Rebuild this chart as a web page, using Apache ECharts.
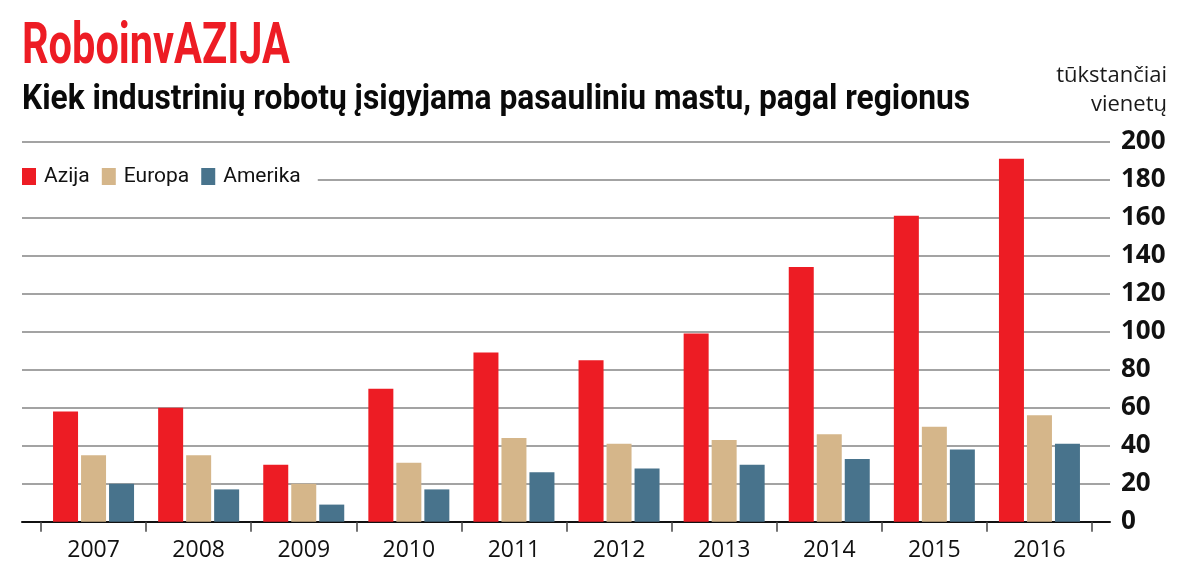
<!DOCTYPE html>
<html>
<head>
<meta charset="utf-8">
<script src="https://cdn.jsdelivr.net/npm/echarts@6/dist/echarts.min.js"></script>
<style>html,body{margin:0;padding:0;background:#fff}#c{width:1200px;height:584px}</style>
</head>
<body>
<div id="c"></div>
<script>
var years = ['2007','2008','2009','2010','2011','2012','2013','2014','2015','2016'];
var azija = [58, 60, 30, 70, 89, 85, 99, 134, 161, 191];
var europa = [35, 35, 20, 31, 44, 41, 43, 46, 50, 56];
var amerika = [20, 17, 9, 17, 26, 28, 30, 33, 38, 41];
var seriesNames = ['Azija', 'Europa', 'Amerika'];
var yMin = 0, yMax = 200, yStep = 20;
var titleText = 'RoboinvAZIJA';
var subtitleText = 'Kiek industrinių robotų įsigyjama pasauliniu mastu, pagal regionus';
var unitText = 'tūkstančiai\nvienetų';

var humanist = "'Open Sans', 'Noto Sans', sans-serif";
var colors = ['#ED1C24', '#D5B68A', '#48738C'];

var titleFont = "bold 58px Roboto, sans-serif";
var subFont = "bold 35px Roboto, sans-serif";
function measure(font, text) {
  var ctx = document.createElement('canvas').getContext('2d');
  ctx.font = font;
  return ctx.measureText(text).width;
}
var titleScale = 268 / measure(titleFont, titleText);
var subScale = 948 / measure(subFont, subtitleText);

var chart = echarts.init(document.getElementById('c'), null, {renderer: 'canvas'});
var top0 = 141.7, bottom0 = 584 - 521.7;
chart.setOption({
  animation: false,
  backgroundColor: '#fff',
  graphic: [
    {type: 'text', x: 22, y: 48, scaleX: titleScale,
     style: {text: titleText, font: titleFont, fill: '#ED1C24', textVerticalAlign: 'middle', verticalAlign: 'middle'}},
    {type: 'text', x: 22, y: 100, scaleX: subScale,
     style: {text: subtitleText, font: subFont, fill: '#0a0a0a', textVerticalAlign: 'middle', verticalAlign: 'middle'}},
    {type: 'text', x: 1167, y: 90,
     style: {text: unitText, font: "22px 'Open Sans', sans-serif", lineHeight: 29, fill: '#1a1a1a',
             align: 'right', textAlign: 'right', verticalAlign: 'middle', textVerticalAlign: 'middle'}}
  ],
  legend: {
    data: seriesNames,
    left: 22, top: 161,
    padding: [5, 17, 5, 0],
    backgroundColor: '#fff',
    icon: 'rect', itemWidth: 14, itemHeight: 17, itemGap: 12,
    textStyle: {fontFamily: 'Roboto, sans-serif', fontSize: 21, color: '#111', padding: [0, 0, 0, 3]}
  },
  grid: [
    {left: 22, right: 90, top: top0, bottom: bottom0},
    {left: 41, right: 108, top: top0, bottom: bottom0}
  ],
  xAxis: [
    {gridIndex: 0, type: 'value', min: 0, max: 1, show: true,
     axisLine: {show: true, onZero: false, lineStyle: {color: '#111', width: 2}},
     axisTick: {show: false}, axisLabel: {show: false}, splitLine: {show: false}},
    {gridIndex: 1, type: 'category', data: years,
     axisLine: {show: false},
     axisTick: {show: true, length: 10, alignWithLabel: false, lineStyle: {color: '#444', width: 1.5}},
     axisLabel: {fontFamily: humanist, fontSize: 23, color: '#111', margin: 17},
     splitLine: {show: false}}
  ],
  yAxis: [
    {gridIndex: 0, type: 'value', min: yMin, max: yMax, interval: yStep, position: 'right',
     axisLine: {show: false}, axisTick: {show: false},
     axisLabel: {fontFamily: humanist, fontWeight: 'bold', fontSize: 26, color: '#111', margin: 11, align: 'left'},
     splitLine: {show: true, lineStyle: {color: '#858585', width: 1.5}}},
    {gridIndex: 1, type: 'value', min: yMin, max: yMax, interval: yStep, show: false,
     splitLine: {show: false}}
  ],
  series: [
    {name: seriesNames[0], type: 'bar', xAxisIndex: 1, yAxisIndex: 1, data: azija, barWidth: 25, barGap: '12%', itemStyle: {color: colors[0]}},
    {name: seriesNames[1], type: 'bar', xAxisIndex: 1, yAxisIndex: 1, data: europa, barWidth: 25, barGap: '12%', itemStyle: {color: colors[1]}},
    {name: seriesNames[2], type: 'bar', xAxisIndex: 1, yAxisIndex: 1, data: amerika, barWidth: 25, barGap: '12%', itemStyle: {color: colors[2]}}
  ]
});
</script>
</body>
</html>
